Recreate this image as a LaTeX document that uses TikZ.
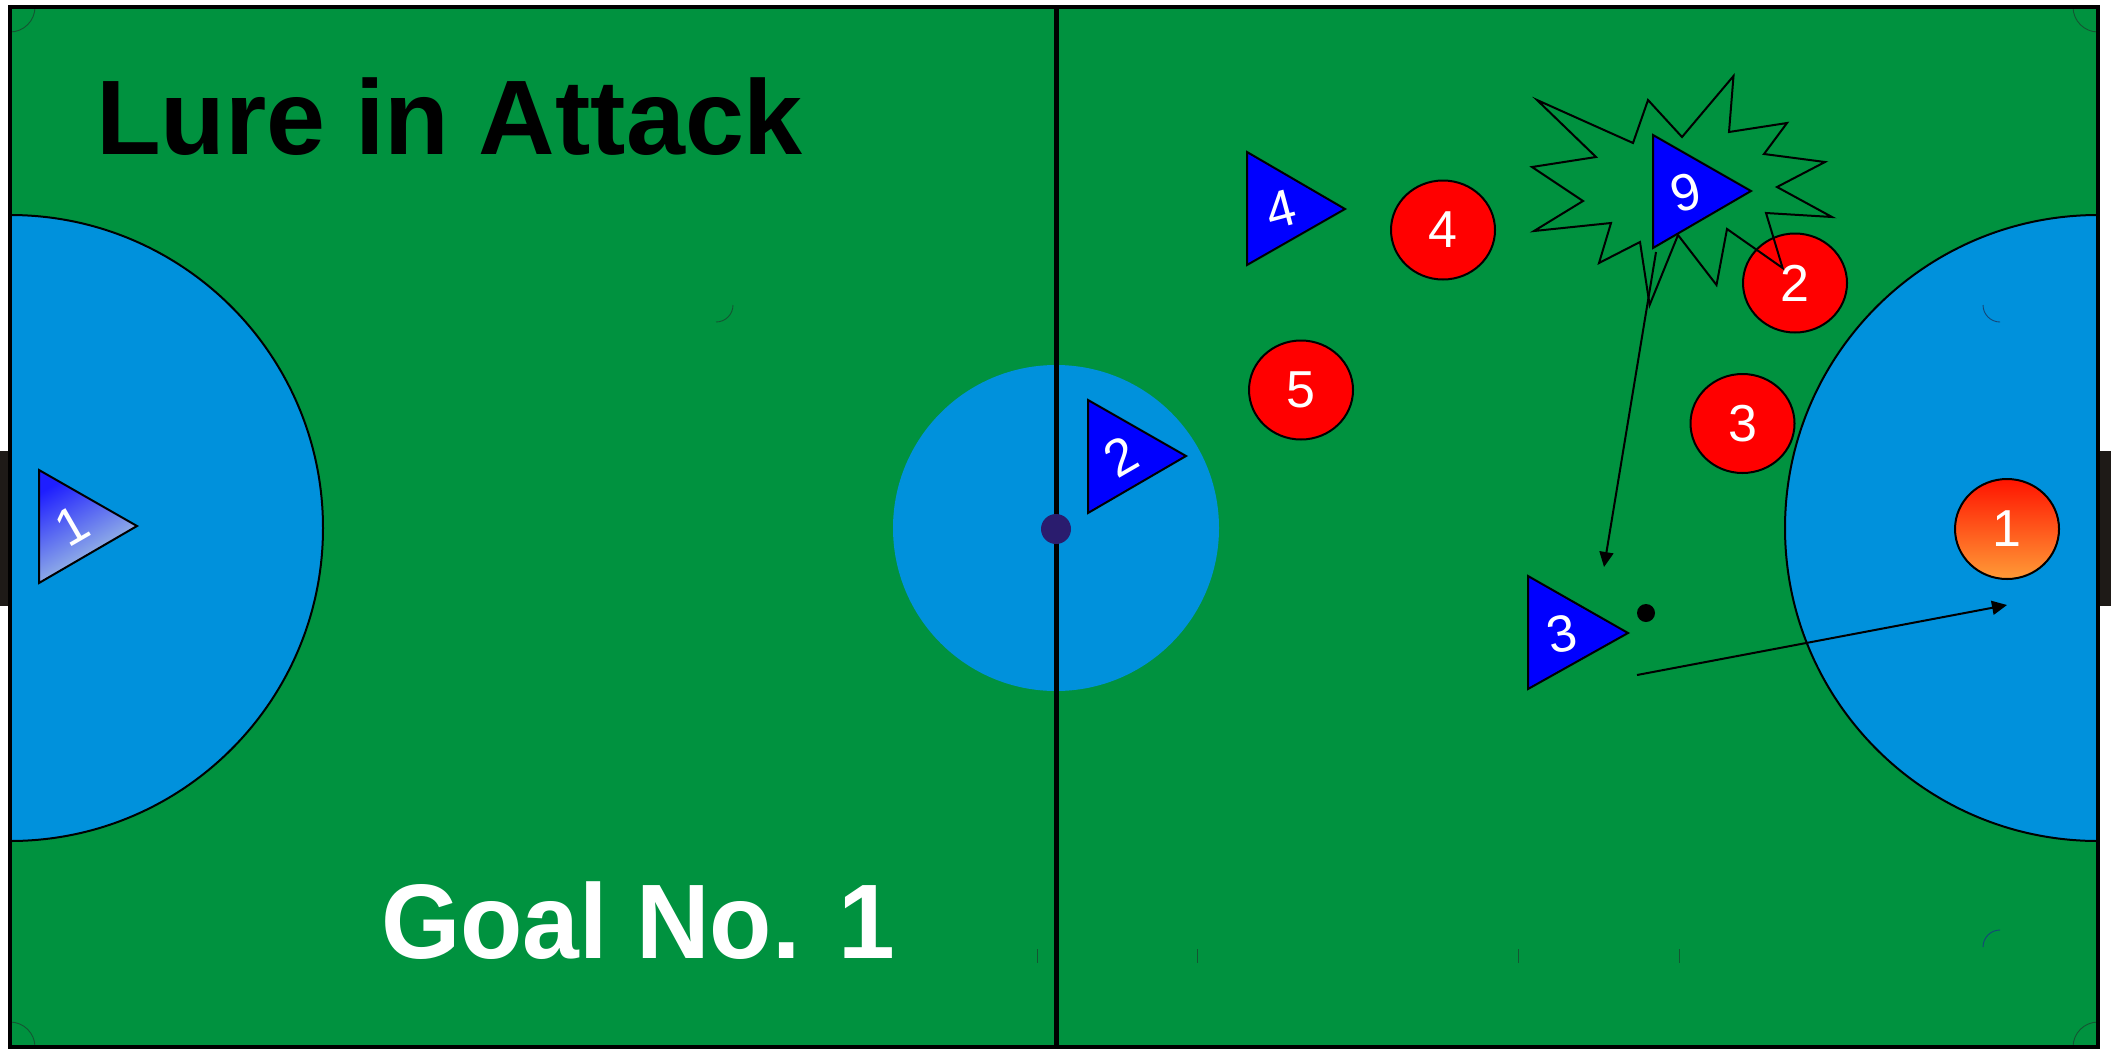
\documentclass[tikz,border=0pt]{standalone}
\usepackage{fontspec}
\setmainfont{Liberation Sans}
\usetikzlibrary{arrows.meta}
\definecolor{pitch}{RGB}{0,146,63}
\definecolor{zone}{RGB}{0,145,220}
\definecolor{pblue}{RGB}{0,0,255}
\definecolor{pred}{RGB}{255,0,0}
\definecolor{dotc}{RGB}{42,28,110}
\definecolor{goalc}{RGB}{30,26,23}
\definecolor{markc}{RGB}{20,85,50}
\definecolor{markb}{RGB}{20,70,120}
\begin{document}
\begin{tikzpicture}[x=1pt,y=-1pt,
  num/.style={text=white,font=\fontsize{52}{52}\selectfont,inner sep=0pt},
  tri/.style={fill=pblue,draw=black,line width=2pt,line join=miter},
  opp/.style={fill=pred,draw=black,line width=2pt},
  fmark/.style={draw=markc,line width=0.9pt},
  bmark/.style={draw=markb,line width=0.9pt},
  move/.style={draw=black,line width=2pt,-{Triangle[length=15pt,width=14pt]}},
  bigtext/.style={font=\bfseries\fontsize{106}{110}\selectfont,inner sep=0pt,anchor=base west}
]
\useasboundingbox[fill=white] (0,0) rectangle (2111,1050);
% goals
\fill[goalc] (0,451) rectangle (12,606);
\fill[goalc] (2099,451) rectangle (2111,606);
% pitch
\fill[pitch] (10,7) rectangle (2098,1047);
\fill[zone] (1056,528) circle[radius=163];
\begin{scope}
  \clip (10,7) rectangle (2098,1047);
  \draw[fill=zone,line width=2pt] (10,528) circle[radius=313];
  \draw[fill=zone,line width=2pt] (2098,528) circle[radius=313];
\end{scope}
% faint marks
\draw[fmark] (35,7) arc[start angle=0,end angle=90,radius=25];
\draw[fmark] (2073,7) arc[start angle=180,end angle=90,radius=25];
\draw[fmark] (10,1022) arc[start angle=270,end angle=360,radius=25];
\draw[fmark] (2073,1047) arc[start angle=180,end angle=270,radius=25];
\draw[fmark] (733,305) arc[start angle=0,end angle=90,radius=17];
\draw[bmark] (1983,305) arc[start angle=180,end angle=90,radius=17];
\draw[bmark] (1983,947) arc[start angle=180,end angle=270,radius=17];
\foreach \tx in {1037,1197,1518,1679} \draw[fmark] (\tx,949) -- (\tx,963);
% halfway line and centre spot
\draw[line width=5pt] (1056,7) -- (1056,1047);
\fill[dotc] (1056,529) circle[radius=15];
% border
\draw[line width=4pt] (10,7) rectangle (2098,1047);
% titles
\node[bigtext,text=black] (title) at (96,154) {Lure in Attack};
\node[bigtext,text=white,xscale=0.962] (goal) at (381,958) {Goal No. 1};
% opponents
\draw[opp] (1443,230) ellipse[x radius=52,y radius=49.5];
\node[num] (o4) at (1443,230) {4};
\draw[opp] (1795,283) ellipse[x radius=52,y radius=49.5];
\node[num] (o2) at (1795,283) {2};
\draw[opp] (1301,390) ellipse[x radius=52,y radius=49.5];
\node[num] (o5) at (1301,390) {5};
\draw[opp] (1742.5,423.5) ellipse[x radius=52,y radius=49.5];
\node[num] (o3) at (1742.5,423.5) {3};
\shade[top color={rgb,255:red,255;green,20;blue,0},bottom color={rgb,255:red,255;green,155;blue,55}] (2007,529) ellipse[x radius=52,y radius=50];
\draw[black,line width=2pt] (2007,529) ellipse[x radius=52,y radius=50];
\node[num] (o1) at (2007,529) {1};
% explosion star
\draw[black,line width=2pt,line join=miter]
 (1537,100) -- (1633,143) -- (1648,100) -- (1682,137) -- (1733.5,76) -- (1729,132)
 -- (1787,123) -- (1764,154) -- (1825,162) -- (1777,187) -- (1832,217) -- (1766,213)
 -- (1782.6,268) -- (1727,229) -- (1716.5,285) -- (1678,235) -- (1649.6,305) -- (1640,242)
 -- (1599,263) -- (1611,223) -- (1534,231) -- (1583,201) -- (1532,167) -- (1596,157) -- cycle;
% own players
\shade[top color={rgb,255:red,30;green,30;blue,255},middle color={rgb,255:red,165;green,205;blue,225},bottom color={rgb,255:red,182;green,222;blue,222},shading angle=30]
 (39,470) -- (39,583) -- (137,526) -- cycle;
\draw[black,line width=2pt,line join=miter] (39,470) -- (39,583) -- (137,526) -- cycle;
\node[num,rotate=30] (t1) at (72,526) {1};
\draw[tri] (1088,400) -- (1088,513) -- (1186,456) -- cycle;
\node[num,rotate=30] (t2) at (1121,457) {2};
\draw[tri] (1528,576) -- (1528,689) -- (1628,633) -- cycle;
\node[num,rotate=12] (t3) at (1562,634) {3};
\draw[tri] (1247,152) -- (1247,265) -- (1345,209) -- cycle;
\node[num,rotate=15] (t4) at (1281,209) {4};
\draw[tri] (1653,135) -- (1653,248) -- (1751,191) -- cycle;
\node[num,rotate=15] (t9) at (1686,192) {9};
% ball and movements
\fill[black] (1646,613) circle[radius=9];
\coordinate (passA) at (1656,252);
\coordinate (passB) at (1604,567);
\coordinate (shotA) at (1637,675);
\coordinate (shotB) at (2007,605);
\draw[move] (passA) -- (passB);
\draw[move] (shotA) -- (shotB);
\end{tikzpicture}
\end{document}
